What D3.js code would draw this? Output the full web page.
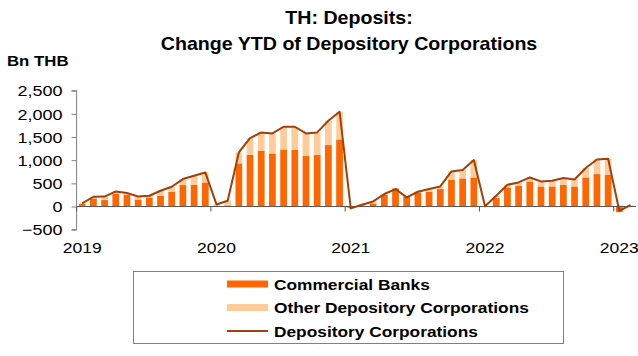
<!DOCTYPE html>
<html>
<head>
<meta charset="utf-8">
<script src="https://cdn.jsdelivr.net/npm/d3@7"></script>
<style>
  html, body { margin: 0; padding: 0; background: #fff; }
  svg { display: block; font-family: "Liberation Sans", Arial, sans-serif; }
</style>
</head>
<body>
<svg id="chart" width="638" height="356"></svg>
<script>
// Monthly year-to-date change in deposits, Bn THB (Jan 2019 – Feb 2023)
const months = [
  "2019-01","2019-02","2019-03","2019-04","2019-05","2019-06","2019-07","2019-08","2019-09","2019-10","2019-11","2019-12",
  "2020-01","2020-02","2020-03","2020-04","2020-05","2020-06","2020-07","2020-08","2020-09","2020-10","2020-11","2020-12",
  "2021-01","2021-02","2021-03","2021-04","2021-05","2021-06","2021-07","2021-08","2021-09","2021-10","2021-11","2021-12",
  "2022-01","2022-02","2022-03","2022-04","2022-05","2022-06","2022-07","2022-08","2022-09","2022-10","2022-11","2022-12",
  "2023-01","2023-02"
];
const commercialBanks = [
  55, 175, 140, 270, 255, 153, 197, 233, 319, 464, 470, 520,
  5, 25, 931, 1118, 1204, 1146, 1233, 1226, 1090, 1118, 1327, 1448,
  -30, 25, 67, 255, 390, 211, 305, 319, 377, 578, 607, 629,
  0, 183, 413, 449, 542, 434, 434, 470, 434, 628, 701, 686,
  -120, 10
];
const otherDepository = [
  12, 36, 75, 56, 36, 65, 36, 108, 108, 129, 195, 216,
  40, 100, 237, 360, 396, 432, 489, 496, 488, 482, 524, 598,
  -10, 14, 43, 15, -13, -14, 14, 58, 57, 179, 181, 374,
  5, 50, 57, 71, 86, 108, 123, 145, 151, 203, 315, 345,
  29, 20
];
const depositoryCorporations = [
  67, 211, 215, 326, 291, 218, 233, 341, 427, 593, 665, 736,
  45, 125, 1168, 1478, 1600, 1578, 1722, 1722, 1578, 1600, 1851, 2046,
  -40, 39, 110, 270, 377, 197, 319, 377, 434, 757, 788, 1003,
  5, 233, 470, 520, 628, 542, 557, 615, 585, 831, 1016, 1031,
  -91, 30
];
const yTicks = [-500, 0, 500, 1000, 1500, 2000, 2500];
const yearLabels = ["2019", "2020", "2021", "2022", "2023"];
const seriesNames = ["Commercial Banks", "Other Depository Corporations", "Depository Corporations"];

const colors = {
  cb: "#FF6600",
  odc: "#FFCC99",
  line: "#A0400A",
  axis: "#7f7f7f",
  text: "#000"
};

const svg = d3.select("#chart");

// text drawn with a slight horizontal stretch
function stretched(parent, x, y, str, opts) {
  const g = parent.append("g").attr("transform", `translate(${x},${y}) scale(${opts.sx || 1},1)`);
  return g.append("text")
    .attr("x", 0).attr("y", 0)
    .attr("text-anchor", opts.anchor || "start")
    .attr("font-size", opts.size)
    .attr("font-weight", opts.weight || "normal")
    .attr("fill", colors.text)
    .text(str);
}

// titles
stretched(svg, 349, 24, "TH: Deposits:", { size: 18, weight: "bold", anchor: "middle", sx: 1.09 });
stretched(svg, 349, 50, "Change YTD of Depository Corporations", { size: 18, weight: "bold", anchor: "middle", sx: 1.09 });
stretched(svg, 7, 66, "Bn THB", { size: 14, weight: "bold", sx: 1.2 });

// scales
const plotLeft = 76.6, step = 11.19;
const x = d3.scaleBand()
  .domain(months)
  .range([plotLeft, plotLeft + step * months.length])
  .paddingInner(0.4)
  .paddingOuter(0.2);
const y = d3.scaleLinear().domain([-500, 2500]).range([229.7, 90.7]);

// stacked bars (diverging so negative parts sit below zero)
const rows = months.map((m, i) => ({ month: m, cb: commercialBanks[i], odc: otherDepository[i] }));
const stack = d3.stack().keys(["cb", "odc"]).offset(d3.stackOffsetDiverging);
const layers = stack(rows);

svg.append("g").selectAll("g")
  .data(layers)
  .join("g")
  .attr("fill", d => d.key === "cb" ? colors.cb : colors.odc)
  .selectAll("rect")
  .data(d => d)
  .join("rect")
  .attr("x", d => x(d.data.month))
  .attr("width", x.bandwidth())
  .attr("y", d => y(Math.max(d[0], d[1])))
  .attr("height", d => Math.abs(y(d[0]) - y(d[1])));

// y axis
const yAxis = d3.axisLeft(y)
  .tickValues(yTicks)
  .tickSize(5)
  .tickPadding(0)
  .tickFormat(d3.format(","));
const yAxisG = svg.append("g")
  .attr("transform", `translate(${plotLeft},0)`)
  .call(yAxis);
yAxisG.select(".domain").attr("stroke", colors.axis).attr("d", `M-5,${y(2500)}H0V${y(-500)}H-5`);
yAxisG.selectAll(".tick line").attr("stroke", colors.axis);
const ySx = 1.2;
yAxisG.selectAll(".tick text")
  .attr("font-family", "Liberation Sans, Arial, sans-serif")
  .attr("font-size", 15)
  .attr("fill", colors.text)
  .attr("x", -14 / ySx)
  .attr("dy", "0.35em")
  .attr("transform", `scale(${ySx},1)`);

// x axis along zero, ticks at year boundaries
const xEnd = plotLeft + step * months.length;
const xAxisG = svg.append("g").attr("transform", `translate(0,${y(0)})`);
xAxisG.append("line")
  .attr("x1", plotLeft).attr("x2", xEnd)
  .attr("stroke", "#555").attr("stroke-width", 1);
const yearStarts = months.filter(m => m.endsWith("-01"));
xAxisG.selectAll("line.tick")
  .data(yearStarts)
  .join("line")
  .attr("class", "tick")
  .attr("x1", d => x(d) - x.step() * x.paddingInner() / 2)
  .attr("x2", d => x(d) - x.step() * x.paddingInner() / 2)
  .attr("y1", 0).attr("y2", 5)
  .attr("stroke", "#555");

yearStarts.forEach((m, i) => {
  stretched(svg, x(m) + x.bandwidth() / 2, 253, yearLabels[i], { size: 15, anchor: "middle", sx: 1.17 });
});

// total line
const line = d3.line()
  .x((d, i) => x(months[i]) + x.bandwidth() / 2)
  .y(d => y(d));
svg.append("path")
  .datum(depositoryCorporations)
  .attr("fill", "none")
  .attr("stroke", colors.line)
  .attr("stroke-width", 2)
  .attr("stroke-linejoin", "round")
  .attr("d", line);

// legend
const legend = svg.append("g");
legend.append("rect")
  .attr("x", 133.5).attr("y", 271.5)
  .attr("width", 430).attr("height", 72)
  .attr("fill", "#fff").attr("stroke", "#808080");
const legendRows = [
  { name: seriesNames[0], type: "bar", color: colors.cb },
  { name: seriesNames[1], type: "bar", color: colors.odc },
  { name: seriesNames[2], type: "line", color: colors.line }
];
legendRows.forEach((r, i) => {
  const cy = 284 + i * 23.5;
  if (r.type === "bar") {
    legend.append("rect")
      .attr("x", 227).attr("y", cy - 3.5)
      .attr("width", 41).attr("height", 7)
      .attr("fill", r.color);
  } else {
    legend.append("line")
      .attr("x1", 227).attr("x2", 268)
      .attr("y1", cy).attr("y2", cy)
      .attr("stroke", r.color).attr("stroke-width", 2);
  }
  stretched(legend, 274, cy + 5.5, r.name, { size: 15, weight: "bold", sx: 1.155 });
});
</script>
</body>
</html>
